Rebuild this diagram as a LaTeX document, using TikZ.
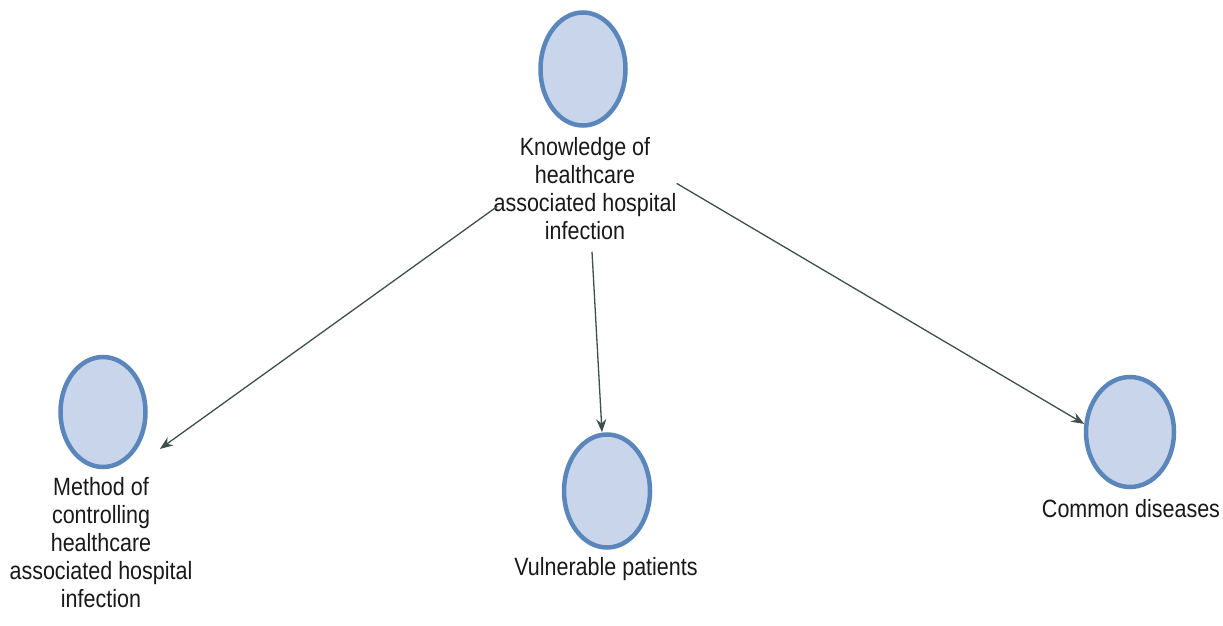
\documentclass[tikz,border=0pt]{standalone}
\usepackage{fontspec}
\setmainfont{Liberation Sans}[FakeStretch=0.86]
\usetikzlibrary{arrows.meta,shapes.geometric}
\definecolor{ellfill}{HTML}{C8D5EA}
\definecolor{elldraw}{HTML}{5B86BC}
\definecolor{conncol}{HTML}{3E504D}
\tikzset{
  ell/.style={ellipse, draw=elldraw, fill=ellfill, line width=4.5pt, inner sep=0pt},
  lbl/.style={anchor=north, inner sep=0pt, align=center, font=\fontsize{25pt}{28pt}\selectfont, text=black!90},
  conn/.style={draw=conncol, line width=1.3pt, -{Stealth[length=13pt,width=10pt]}}
}
\begin{document}
\begin{tikzpicture}
\useasboundingbox[fill=white] (0pt,0pt) rectangle (1223pt,-626pt);
\node[ell, minimum width=85pt, minimum height=113pt] (topell) at (583pt,-69pt) {};
\node[lbl] (toplabel) at (585pt,-137pt) {Knowledge of\\healthcare\\associated hospital\\infection};
\node[ell, minimum width=85pt, minimum height=110pt] (leftell) at (103pt,-412pt) {};
\node[lbl] (leftlabel) at (101pt,-477pt) {Method of\\controlling\\healthcare\\associated hospital\\infection};
\node[ell, minimum width=86pt, minimum height=113pt] (midell) at (607pt,-491pt) {};
\node[lbl] (midlabel) at (606pt,-557pt) {Vulnerable patients};
\node[ell, minimum width=88pt, minimum height=110pt] (rightell) at (1130pt,-432pt) {};
\node[lbl] (rightlabel) at (1131pt,-499pt) {Common diseases};
\draw[conn] ([xshift=4pt,yshift=-18pt]toplabel.west) -- ([xshift=17pt,yshift=-11pt]leftell.-33);
\draw[conn] ([xshift=7pt,yshift=-12pt]toplabel.south) -- ([xshift=-5pt]midell.north);
\draw[conn] ([yshift=5pt]toplabel.east) -- (rightell.170);
\end{tikzpicture}
\end{document}
